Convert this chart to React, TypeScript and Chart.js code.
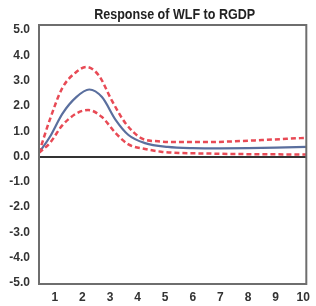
import React, { useEffect, useRef } from "react";
import { Chart, registerables } from "chart.js";

Chart.register(...registerables);

const titleText = "Response of WLF to RGDP";
const xTicks = [1, 2, 3, 4, 5, 6, 7, 8, 9, 10];
const yTicks = [-5, -4, -3, -2, -1, 0, 1, 2, 3, 4, 5];

const responseX = [0.43, 0.82, 1.28, 1.78, 2.25, 2.71, 3.21, 3.67, 4.27, 5.09, 6.0, 7.0, 8.0, 9.0, 10.11];
const responseY = [0.15, 0.77, 1.7, 2.35, 2.65, 2.35, 1.44, 0.85, 0.53, 0.38, 0.33, 0.32, 0.33, 0.35, 0.38];

const upperX = [0.43, 0.82, 1.28, 1.78, 2.14, 2.6, 3.06, 3.56, 4.13, 4.74, 5.5, 6.5, 7.5, 8.5, 9.4, 10.11];
const upperY = [0.15, 1.45, 2.72, 3.34, 3.54, 3.2, 2.23, 1.32, 0.73, 0.6, 0.57, 0.57, 0.6, 0.65, 0.7, 0.74];

const lowerX = [0.43, 0.82, 1.28, 1.78, 2.21, 2.71, 3.21, 3.67, 4.27, 4.85, 5.5, 6.5, 7.5, 8.5, 10.11];
const lowerY = [0.15, 0.53, 1.24, 1.7, 1.84, 1.56, 0.92, 0.48, 0.3, 0.19, 0.14, 0.12, 0.1, 0.09, 0.08];

const pts = (xs: number[], ys: number[]) => xs.map((x, i) => ({ x, y: ys[i] }));

const boxPlugin = {
  id: "box",
  afterDraw(chart: any) {
    const { ctx, chartArea } = chart;
    ctx.save();
    ctx.strokeStyle = "#6e6e6e";
    ctx.lineWidth = 2;
    ctx.strokeRect(chartArea.left, chartArea.top, chartArea.right - chartArea.left, chartArea.bottom - chartArea.top);
    // title, condensed like Arial Narrow Bold
    ctx.font = "bold 15px 'Liberation Sans', Arial, sans-serif";
    ctx.fillStyle = "#222";
    ctx.textBaseline = "alphabetic";
    ctx.textAlign = "center";
    const w = ctx.measureText(titleText).width;
    const target = 161;
    const sx = target / w;
    const cx = (chartArea.left + chartArea.right) / 2 + 2;
    ctx.translate(cx, 19);
    ctx.scale(sx, 1);
    ctx.fillText(titleText, 0, 0);
    ctx.restore();
  },
};

export default function App() {
  const ref = useRef<HTMLCanvasElement | null>(null);
  useEffect(() => {
    document.body.style.margin = "0";
    const canvas = ref.current;
    if (!canvas) return;
    const chart = new Chart(canvas, {
      type: "line",
      data: {
        datasets: [
          {
            label: "Upper",
            data: pts(upperX, upperY),
            borderColor: "#e84a55",
            borderWidth: 2.5,
            borderDash: [5, 3],
            pointRadius: 0,
            cubicInterpolationMode: "monotone",
            fill: false,
          },
          {
            label: "Lower",
            data: pts(lowerX, lowerY),
            borderColor: "#e84a55",
            borderWidth: 2.5,
            borderDash: [5, 3],
            pointRadius: 0,
            cubicInterpolationMode: "monotone",
            fill: false,
          },
          {
            label: "Response",
            data: pts(responseX, responseY),
            borderColor: "#5a6f9e",
            borderWidth: 2.2,
            pointRadius: 0,
            cubicInterpolationMode: "monotone",
            fill: false,
          },
        ],
      },
      options: {
        responsive: false,
        animation: false,
        layout: { padding: { top: 25, right: 5, left: 0, bottom: 0 } },
        plugins: {
          legend: { display: false },
          tooltip: { enabled: false },
          title: { display: false },
        },
        scales: {
          x: {
            type: "linear",
            min: 0.43,
            max: 10.11,
            afterBuildTicks: (scale: any) => {
              scale.ticks = xTicks.map((v) => ({ value: v }));
            },
            afterFit: (scale: any) => {
              scale.height = 22;
            },
            grid: { display: false, drawTicks: false },
            border: { display: false },
            ticks: {
              padding: 6,
              color: "#333",
              font: { family: "Liberation Sans, Arial", size: 12, weight: "bold" },
              maxRotation: 0,
              autoSkip: false,
            },
          },
          y: {
            type: "linear",
            min: -5.04,
            max: 5.2,
            afterBuildTicks: (scale: any) => {
              scale.ticks = yTicks.map((v) => ({ value: v }));
            },
            afterFit: (scale: any) => {
              scale.width = 39;
            },
            grid: {
              drawTicks: false,
              color: (c: any) => (c.tick && c.tick.value === 0 ? "#333" : "rgba(0,0,0,0)"),
              lineWidth: (c: any) => (c.tick && c.tick.value === 0 ? 2 : 0),
            },
            border: { display: false },
            ticks: {
              padding: 9,
              color: "#333",
              font: { family: "Liberation Sans, Arial", size: 12, weight: "bold" },
              callback: (v: any) => Number(v).toFixed(1),
            },
          },
        },
      },
      plugins: [boxPlugin],
    });
    return () => chart.destroy();
  }, []);
  return (
    <div style={{ width: 316, height: 306 }}>
      <canvas ref={ref} width={316} height={306} style={{ width: 316, height: 306, display: "block" }} />
    </div>
  );
}
